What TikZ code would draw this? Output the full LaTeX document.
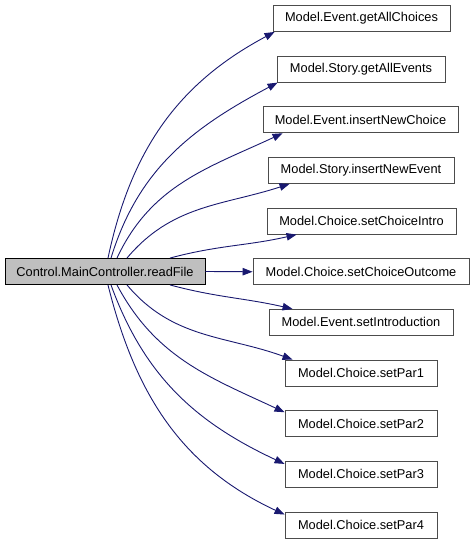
\documentclass[tikz,border=0pt]{standalone}
\usepackage{fontspec}
\setmainfont{Liberation Sans}
\usetikzlibrary{arrows.meta}
\definecolor{edgeblue}{HTML}{191970}
\definecolor{mainfill}{HTML}{BFBFBF}
\begin{document}
\begin{tikzpicture}[x=1pt,y=1pt,
  box/.style={draw=black!70, line width=0.9pt, fill=white, minimum height=26pt, inner sep=0pt, font=\fontsize{12.8}{15}\selectfont},
  mainbox/.style={box, draw=black, fill=mainfill},
  edge/.style={draw=edgeblue, line width=0.9pt, -{Triangle[length=10pt,width=7.5pt]}}]
\useasboundingbox (0,0) rectangle (475,-544);
\node[mainbox, minimum width=200pt] (main) at (105,-271.5) {Control.MainController.readFile};
\node[box, minimum width=177pt] (b1) at (361.5,-18.5) {Model.Event.getAllChoices};
\node[box, minimum width=168pt] (b2) at (361,-69.15) {Model.Story.getAllEvents};
\node[box, minimum width=195pt] (b3) at (360.5,-119.8) {Model.Event.insertNewChoice};
\node[box, minimum width=186pt] (b4) at (361,-170.45) {Model.Story.insertNewEvent};
\node[box, minimum width=189pt] (b5) at (361.5,-221.1) {Model.Choice.setChoiceIntro};
\node[box, minimum width=216pt] (b6) at (361,-271.75) {Model.Choice.setChoiceOutcome};
\node[box, minimum width=184pt] (b7) at (361,-322.4) {Model.Event.setIntroduction};
\node[box, minimum width=152pt] (b8) at (361,-373.05) {Model.Choice.setPar1};
\node[box, minimum width=152pt] (b9) at (361,-423.7) {Model.Choice.setPar2};
\node[box, minimum width=152pt] (b10) at (361,-474.35) {Model.Choice.setPar3};
\node[box, minimum width=152pt] (b11) at (361,-525) {Model.Choice.setPar4};
\draw[edge] ([xshift=3pt]main.north) to[out=78,in=208] ([xshift=2pt]b1.south west);
\draw[edge] ([xshift=6pt]main.north) to[out=73,in=208] ([xshift=1pt]b2.south west);
\draw[edge] ([xshift=12pt]main.north) to[out=65,in=205] ([xshift=20pt]b3.south west);
\draw[edge] ([xshift=22pt]main.north) to[out=50,in=198] ([xshift=22pt]b4.south west);
\draw[edge] ([xshift=65pt]main.north) to[out=15,in=193] ([xshift=30pt]b5.south west);
\draw[edge] (main.east) -- (b6.west);
\draw[edge] ([xshift=65pt]main.south) to[out=-15,in=167] ([xshift=24pt]b7.north west);
\draw[edge] ([xshift=22pt]main.south) to[out=-50,in=160] ([xshift=8pt]b8.north west);
\draw[edge] ([xshift=12pt]main.south) to[out=-62,in=155] ([yshift=-2pt]b9.north west);
\draw[edge] ([xshift=6pt]main.south) to[out=-70,in=155] ([yshift=-3pt]b10.north west);
\draw[edge] ([xshift=3pt]main.south) to[out=-76,in=155] ([yshift=-3pt]b11.north west);
\end{tikzpicture}
\end{document}
